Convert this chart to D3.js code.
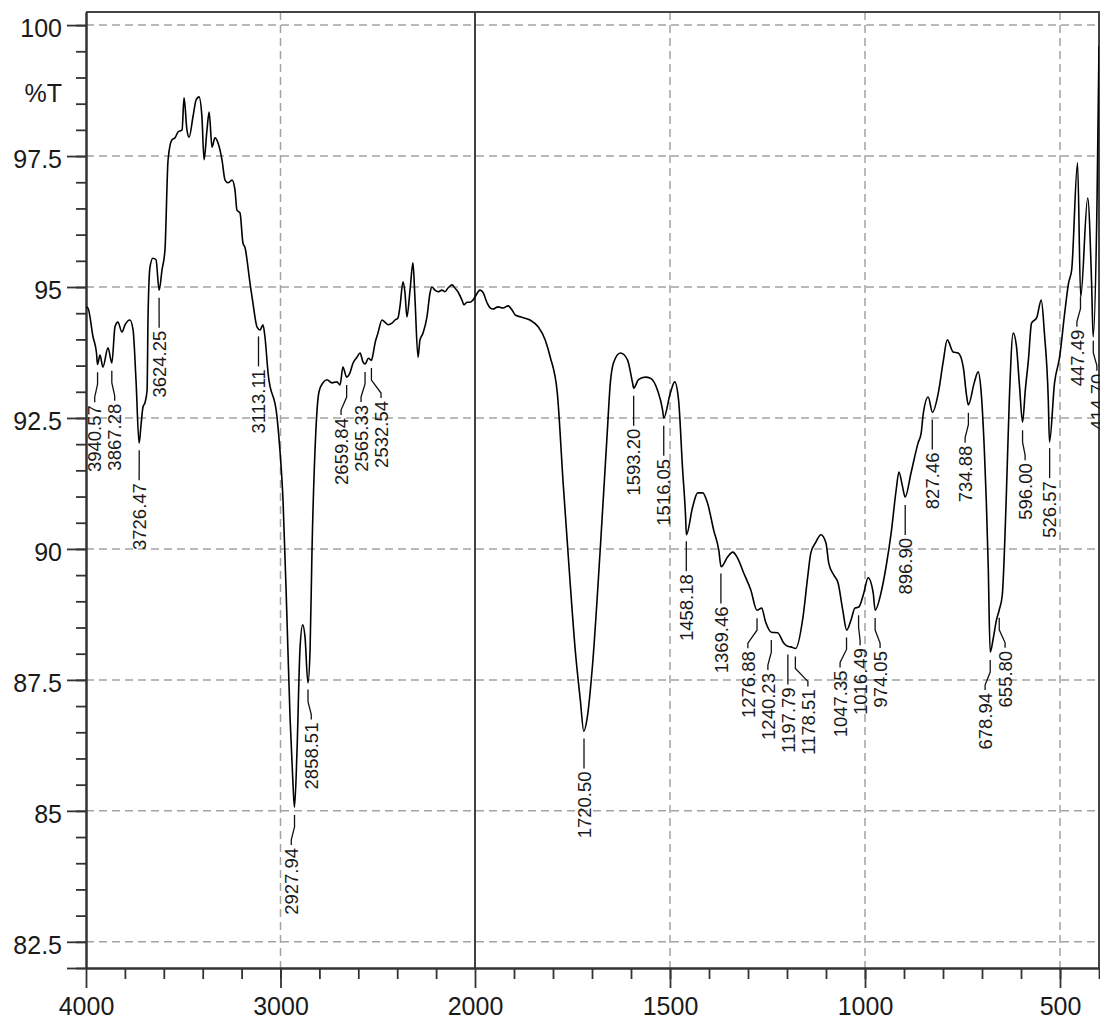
<!DOCTYPE html>
<html>
<head>
<meta charset="utf-8">
<script src="https://cdn.jsdelivr.net/npm/d3@7"></script>
<style>
  html, body { margin: 0; padding: 0; background: #fff; }
  svg { display: block; }
  text { font-family: "Liberation Sans", Arial, Helvetica, sans-serif; }
</style>
</head>
<body>
<div id="chart"></div>
<script>
// spectrum (cm-1, %T)
const wavenumbers = [
  4000, 3990, 3964, 3946, 3941, 3928, 3913, 3887, 3867, 3851,
  3836, 3815, 3799, 3774, 3758, 3743, 3727, 3717, 3707, 3697,
  3686, 3681, 3671, 3656, 3640, 3624, 3609, 3594, 3578, 3558,
  3542, 3527, 3506, 3496, 3481, 3470, 3450, 3434, 3419, 3404,
  3393, 3378, 3367, 3352, 3337, 3321, 3301, 3285, 3270, 3249,
  3234, 3224, 3208, 3193, 3183, 3157, 3142, 3121, 3105, 3090,
  3080, 3064, 3018, 3003, 2987, 2967, 2951, 2936, 2928, 2915,
  2900, 2886, 2874, 2859, 2848, 2838, 2818, 2802, 2782, 2761,
  2735, 2710, 2694, 2679, 2660, 2643, 2627, 2607, 2591, 2576,
  2565, 2548, 2533, 2524, 2514, 2499, 2478, 2463, 2447, 2427,
  2411, 2396, 2386, 2370, 2360, 2350, 2334, 2319, 2309, 2293,
  2283, 2267, 2247, 2231, 2221, 2206, 2190, 2170, 2154, 2139,
  2118, 2103, 2088, 2067, 2057, 2041, 2026, 2010, 2000, 1987,
  1979, 1969, 1961, 1954, 1941, 1928, 1915, 1905, 1897, 1884,
  1859, 1838, 1820, 1807, 1789, 1774, 1756, 1743, 1730, 1721,
  1712, 1699, 1679, 1661, 1653, 1645, 1627, 1609, 1596, 1593,
  1581, 1563, 1550, 1532, 1519, 1516, 1499, 1488, 1478, 1468,
  1460, 1458, 1442, 1429, 1416, 1404, 1388, 1375, 1369, 1352,
  1339, 1327, 1311, 1293, 1277, 1265, 1255, 1240, 1224, 1208,
  1198, 1190, 1178, 1159, 1147, 1139, 1126, 1113, 1100, 1093,
  1080, 1069, 1057, 1047, 1036, 1026, 1016, 1003, 992, 979,
  974, 959, 946, 933, 920, 913, 904, 897, 882, 864,
  856, 851, 838, 827, 812, 800, 789, 774, 761, 748,
  740, 735, 720, 710, 702, 694, 689, 684, 679, 671,
  663, 656, 648, 638, 630, 620, 612, 604, 596, 589,
  581, 573, 560, 548, 540, 530, 527, 514, 501, 488,
  478, 470, 455, 447, 429, 419, 415, 405, 400
];
const transmittance = [
  94.62, 94.60, 94.05, 93.74, 93.52, 93.70, 93.47, 93.84, 93.55, 94.24,
  94.33, 94.14, 94.28, 94.37, 94.18, 93.23, 92.02, 92.37, 92.71, 92.79,
  93.03, 94.43, 95.38, 95.55, 95.52, 94.94, 95.33, 95.71, 97.43, 97.81,
  97.85, 97.96, 98.00, 98.61, 98.00, 97.86, 98.25, 98.57, 98.63, 98.25,
  97.43, 98.00, 98.34, 97.67, 97.85, 97.75, 97.43, 97.04, 96.99, 97.04,
  96.85, 96.47, 96.41, 95.84, 95.76, 95.08, 94.70, 94.24, 94.18, 94.28,
  94.05, 93.36, 92.52, 91.89, 90.93, 88.70, 86.79, 85.53, 85.07, 86.16,
  88.07, 88.55, 88.32, 87.44, 88.07, 89.98, 92.27, 93.00, 93.17, 93.23,
  93.17, 93.19, 93.13, 93.47, 93.28, 93.36, 93.55, 93.66, 93.74, 93.57,
  93.53, 93.64, 93.60, 93.72, 93.93, 94.12, 94.37, 94.33, 94.28, 94.31,
  94.37, 94.41, 94.62, 95.10, 94.89, 94.43, 94.94, 95.46, 94.81, 93.66,
  93.99, 94.12, 94.43, 94.89, 95.00, 94.94, 94.91, 94.94, 94.91, 94.98,
  95.04, 94.98, 94.91, 94.75, 94.66, 94.71, 94.71, 94.75, 94.81, 94.94,
  94.89, 94.70, 94.60, 94.58, 94.62, 94.60, 94.64, 94.56, 94.47, 94.43,
  94.37, 94.24, 93.99, 93.66, 92.98, 91.26, 89.35, 88.07, 87.12, 86.52,
  86.79, 87.75, 89.98, 92.21, 93.17, 93.55, 93.74, 93.61, 93.17, 93.07,
  93.23, 93.28, 93.26, 93.03, 92.65, 92.50, 92.98, 93.19, 92.84, 91.56,
  90.61, 90.27, 90.80, 91.07, 91.07, 90.88, 90.36, 89.98, 89.66, 89.85,
  89.94, 89.83, 89.54, 89.22, 88.83, 88.87, 88.61, 88.41, 88.40, 88.20,
  88.14, 88.13, 88.10, 88.70, 89.46, 89.92, 90.13, 90.27, 90.11, 89.73,
  89.50, 89.35, 88.83, 88.45, 88.64, 88.87, 88.89, 89.16, 89.45, 89.16,
  88.83, 89.16, 89.66, 90.30, 91.13, 91.47, 91.20, 90.99, 91.45, 92.02,
  92.21, 92.56, 92.90, 92.61, 92.98, 93.55, 93.99, 93.76, 93.74, 93.47,
  92.95, 92.75, 93.17, 93.38, 92.98, 91.89, 90.93, 89.66, 88.03, 88.30,
  88.64, 88.83, 89.12, 90.93, 92.84, 94.12, 93.89, 93.13, 92.42, 93.03,
  93.61, 94.31, 94.41, 94.75, 94.12, 92.84, 92.04, 93.17, 93.66, 94.50,
  95.08, 95.33, 97.37, 94.81, 96.70, 95.08, 94.05, 96.66, 99.60
];

const peakLabels = [
  "3940.57", "3867.28", "3726.47", "3624.25", "3113.11", "2927.94", "2858.51",
  "2659.84", "2565.33", "2532.54", "1720.50", "1593.20", "1516.05", "1458.18",
  "1369.46", "1276.88", "1240.23", "1197.79", "1178.51", "1047.35", "1016.49",
  "974.05", "896.90", "827.46", "734.88", "678.94", "655.80", "596.00",
  "526.57", "447.49", "414.70"
];

const yMajorTicks = [100, 97.5, 95, 92.5, 90, 87.5, 85, 82.5];
const yMinorTicks = d3.range(82, 100.01, 0.5);
const xMajorTicks = [4000, 3000, 2000, 1500, 1000, 500];
const xMinorTicks = d3.range(3800, 2000, -200).concat(d3.range(1900, 399, -100));
const xGridTicks = [3000, 1500, 1000, 500];

const W = 1100, H = 1019;
const mLeft = 86, mRight = 1099, mTop = 12, mBottom = 968;

const data = wavenumbers.map((w, i) => ({ w: w, t: transmittance[i] }));

// the wavenumber axis changes scale at 2000
const x = d3.scaleLinear().domain([4000, 2000, 400]).range([mLeft, 475, mRight]);
const y = d3.scaleLinear().domain([82, 100.25]).range([mBottom, mTop]);

const svg = d3.select("#chart").append("svg")
  .attr("width", W).attr("height", H)
  .style("background", "#fff");

// grid
const grid = svg.append("g")
  .attr("stroke", "#a3a3a3").attr("stroke-width", 1.5)
  .attr("stroke-dasharray", "8,5").attr("fill", "none");
grid.selectAll("line.h").data(yMajorTicks).enter().append("line")
  .attr("class", "h")
  .attr("x1", mLeft).attr("x2", mRight)
  .attr("y1", d => y(d)).attr("y2", d => y(d));
grid.selectAll("line.v").data(xGridTicks).enter().append("line")
  .attr("class", "v")
  .attr("y1", mTop).attr("y2", mBottom)
  .attr("x1", d => x(d)).attr("x2", d => x(d));

// scale break
svg.append("line")
  .attr("x1", x(2000)).attr("x2", x(2000))
  .attr("y1", mTop).attr("y2", mBottom)
  .attr("stroke", "#000").attr("stroke-width", 1.5);

// frame top/right
svg.append("path")
  .attr("d", `M${mLeft},${mTop}H${mRight}V${mBottom}`)
  .attr("fill", "none").attr("stroke", "#444").attr("stroke-width", 2);

// axes
function styleAxis(g) {
  g.selectAll("path.domain").attr("stroke", "#333").attr("stroke-width", 2);
  g.selectAll(".tick line").attr("stroke", "#333").attr("stroke-width", 1.8);
  g.selectAll(".tick text")
    .attr("fill", "#1a1a1a")
    .style("font-size", "25px")
    .style("font-family", "'Liberation Sans', Arial, Helvetica, sans-serif");
}

svg.append("g")
  .attr("transform", `translate(${mLeft},0)`)
  .call(d3.axisLeft(y).tickValues(yMinorTicks).tickSize(10).tickSizeOuter(0).tickFormat(""))
  .call(styleAxis);
svg.append("g")
  .attr("transform", `translate(${mLeft},0)`)
  .call(d3.axisLeft(y).tickValues(yMajorTicks.concat([82])).tickSize(19).tickSizeOuter(0).tickPadding(5)
    .tickFormat(d => d === 82 ? "" : d3.format("")(d)))
  .call(styleAxis)
  .call(g => g.selectAll(".tick text").attr("dy", "0.45em"));

svg.append("g")
  .attr("transform", `translate(0,${mBottom})`)
  .call(d3.axisBottom(x).tickValues(xMinorTicks).tickSize(11).tickSizeOuter(0).tickFormat(""))
  .call(styleAxis);
svg.append("g")
  .attr("transform", `translate(0,${mBottom})`)
  .call(d3.axisBottom(x).tickValues(xMajorTicks).tickSize(20).tickSizeOuter(0).tickPadding(9)
    .tickFormat(d3.format("")))
  .call(styleAxis);

svg.append("text")
  .attr("x", 62).attr("y", 102)
  .attr("text-anchor", "end")
  .attr("fill", "#1a1a1a")
  .style("font-size", "25px")
  .text("%T");

// spectrum line
svg.append("clipPath").attr("id", "plot")
  .append("rect").attr("x", mLeft).attr("y", mTop)
  .attr("width", mRight - mLeft).attr("height", mBottom - mTop);

const line = d3.line()
  .x(d => x(d.w))
  .y(d => y(d.t))
  .curve(d3.curveMonotoneX);

svg.append("path")
  .datum(data)
  .attr("clip-path", "url(#plot)")
  .attr("fill", "none")
  .attr("stroke", "#000")
  .attr("stroke-width", 1.6)
  .attr("stroke-linejoin", "round")
  .attr("d", line);

// peak labels
function valueAt(w) {
  for (let i = 0; i < data.length - 1; i++) {
    const a = data[i], b = data[i + 1];
    if (w <= a.w && w >= b.w) {
      const f = (a.w - w) / (a.w - b.w);
      return a.t + f * (b.t - a.t);
    }
  }
  return data[data.length - 1].t;
}

// push crowded labels apart, keeping each group centred on its peaks
function spread(xs, gap) {
  let groups = xs.map((v, i) => ({ idx: [i], c: v }));
  let moved = true;
  while (moved) {
    moved = false;
    for (let i = 0; i < groups.length - 1; i++) {
      const a = groups[i], b = groups[i + 1];
      const aR = a.c + (a.idx.length - 1) * gap / 2;
      const bL = b.c - (b.idx.length - 1) * gap / 2;
      if (bL - aR < gap) {
        const idx = a.idx.concat(b.idx);
        groups.splice(i, 2, { idx: idx, c: d3.mean(idx, j => xs[j]) });
        moved = true;
        break;
      }
    }
  }
  const out = [];
  groups.forEach(g => g.idx.forEach((j, k) => {
    out[j] = g.c + (k - (g.idx.length - 1) / 2) * gap;
  }));
  return out;
}

const peaks = peakLabels.map(s => {
  const w = +s;
  return { label: s, px: x(w), py: y(valueAt(w)) };
});
const lx = spread(peaks.map(p => p.px), 20);
peaks.forEach((p, i) => p.lx = lx[i]);

const lab = svg.append("g");
lab.selectAll("path").data(peaks).enter().append("path")
  .attr("fill", "none").attr("stroke", "#111").attr("stroke-width", 1.3)
  .attr("d", p => `M${p.px},${p.py + 8}V${p.py + 20}L${p.lx},${p.py + 33}V${p.py + 38}`);
lab.selectAll("text").data(peaks).enter().append("text")
  .attr("transform", p => `translate(${p.lx},${p.py + 41}) rotate(-90)`)
  .attr("text-anchor", "end")
  .attr("dy", "0.36em")
  .attr("fill", "#1a1a1a")
  .style("font-size", "18.5px")
  .text(p => p.label);
</script>
</body>
</html>
